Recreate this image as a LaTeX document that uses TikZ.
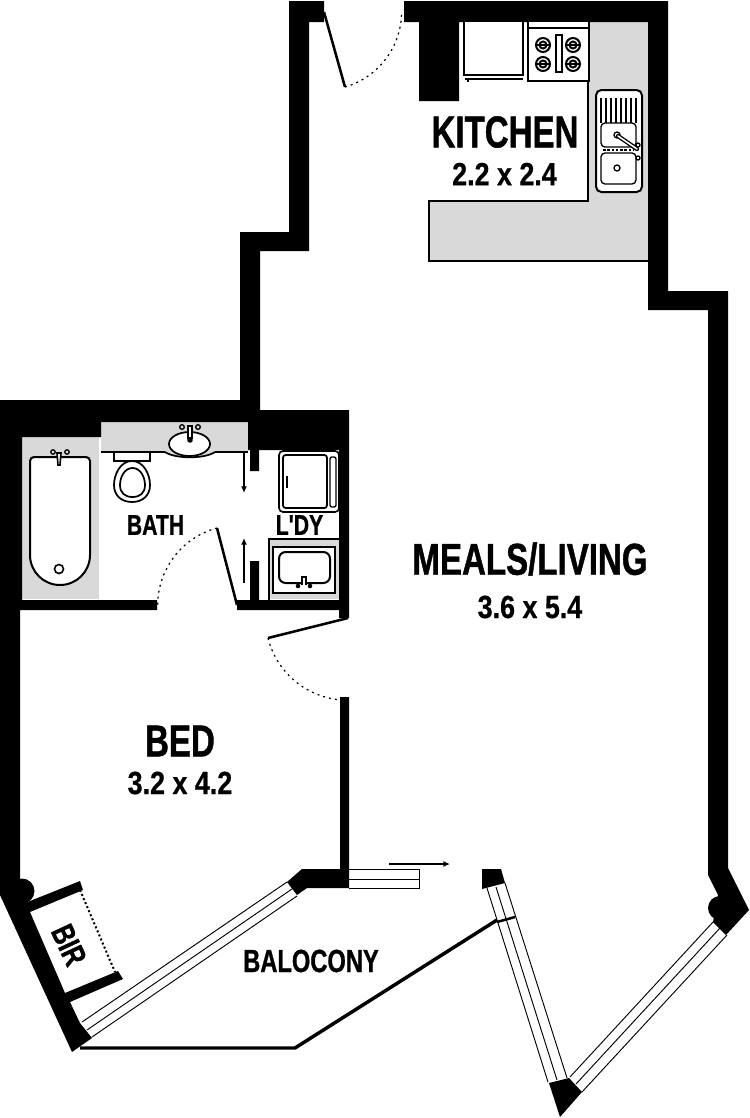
\documentclass[tikz,border=0pt]{standalone}
\usepackage{fontspec}
\setmainfont[FakeStretch=0.74,BoldFeatures={FakeBold=0.9}]{Liberation Sans}
\newfontface\dimfont[FakeStretch=0.84,FakeBold=0.6]{Liberation Sans Bold}
\newfontface\plainquotefont[FakeStretch=0.74,FakeBold=0.9]{Liberation Sans Bold}
\definecolor{benchgrey}{HTML}{D9D9D9}
\tikzset{
  wall/.style={fill=black,draw=none},
  bench/.style={fill=benchgrey,draw=none},
  fixture/.style={draw=black,line width=1.5pt,fill=white},
  thinfix/.style={draw=black,line width=1pt},
  glass/.style={draw=black,line width=0.7pt},
  doorleaf/.style={draw=black,line width=1.9pt},
  doorswing/.style={draw=black,line width=0.9pt,dash pattern=on 1.5pt off 3pt},
  slidearrow/.style={draw=black,line width=1.1pt,-{Latex[length=5pt,width=4.5pt]}},
  bigname/.style={font=\bfseries\fontsize{33.5}{36}\selectfont,inner sep=0pt},
  midname/.style={font=\bfseries\fontsize{24}{26}\selectfont,inner sep=0pt},
  dimname/.style={font=\dimfont\fontsize{24}{26}\selectfont,inner sep=0pt},
  smallname/.style={font=\bfseries\fontsize{21.5}{23}\selectfont,inner sep=0pt},
}
\usetikzlibrary{arrows.meta}
\begin{document}
\begin{tikzpicture}[x=0.75pt,y=-0.75pt]
\useasboundingbox (0,0) rectangle (750,1118);

\fill[bench] (588,22) -- (648,22) -- (648,261) -- (429,261) -- (429,201) -- (588,201) -- cycle;
\fill[bench] (22,437) rectangle (99,599);
\fill[bench] (101,422) rectangle (248,452);
\fill[bench] (269,539) rectangle (339,599);
\draw[line width=1.3pt] (588,22) -- (588,201) -- (429,201) -- (429,261) -- (648,261);
\draw[line width=1.1pt] (269,600) -- (269,539) -- (339,539);

\fill[wall] (324,1) -- (324,22) -- (309,22) -- (309,251) -- (260,251) -- (260,410) -- (349,410) -- (349,618) -- (339,618)
  -- (339,610) -- (237,610) -- (237,600) -- (250,600) -- (250,561) -- (259,561) -- (259,600) -- (339,600) -- (339,450)
  -- (259,450) -- (259,471) -- (250,471) -- (250,450) -- (248,450) -- (248,422) -- (101,422) -- (101,437) -- (22,437)
  -- (22,600) -- (157,600) -- (157,610) -- (20,610) -- (20,890) -- (25,903) -- (80,881) -- (83,890) -- (30,912)
  -- (65,993) -- (118,971) -- (123,979) -- (70,1002) -- (80,1023) -- (92,1038) -- (72,1052) -- (0,895) -- (0,400)
  -- (240,400) -- (240,232) -- (289,232) -- (289,1) -- cycle;
\fill[wall] (22,891) circle (12.5);
\fill[wall] (340,697) -- (349,697) -- (349,888) -- (307,888) -- (297,895) -- (287,882) -- (302,869) -- (340,869) -- cycle;
\fill[wall] (404,1) -- (668,1) -- (668,291) -- (728,291) -- (728,868) -- (749,910) -- (726,935) -- (713,922) -- (718,895)
  -- (708,875) -- (708,310) -- (648,310) -- (648,22) -- (459,22) -- (459,101) -- (419,101) -- (419,22) -- (404,22) -- cycle;
\fill[wall] (720,908) circle (12);
\fill[wall] (482,869) -- (501,869) -- (505,883) -- (482,889) -- cycle;
\fill[wall] (549,1083) -- (569,1078) -- (582,1092) -- (560,1117) -- cycle;

\draw[glass] (82,1022) -- (287,882);
\draw[glass] (87,1030) -- (292,889);
\draw[glass] (92,1037) -- (297,896);
\draw[glass] (349,869) -- (419,869) -- (419,888) -- (349,888);
\draw[glass] (349,879) -- (419,879);
\draw[glass] (487,888) -- (548,1082);
\draw[glass] (496,887) -- (557,1080);
\draw[glass] (505,883) -- (567,1078);
\draw[glass] (570,1077) -- (713,922);
\draw[glass] (576,1084) -- (720,928);
\draw[glass] (582,1092) -- (727,935);

\draw[line width=2.6pt,line join=bevel] (80,1048) -- (295,1048) -- (497,920);
\draw[line width=1.9pt] (497,922) -- (515,917);

\draw[doorleaf] (324,12) -- (345,87);
\draw[doorswing] (345,87) arc[start angle=74,end angle=0,radius=78];
\draw[doorleaf] (237,605) -- (217,528);
\draw[doorswing] (217,528) arc[start angle=255,end angle=180,radius=80];
\draw[doorleaf] (348,618) -- (268,638);
\draw[doorswing] (268,638) arc[start angle=166,end angle=96,radius=82];
\draw[line width=1.5pt,dash pattern=on 1.5pt off 1.8pt] (80,890) -- (115,972);

\draw[slidearrow] (389,864) -- (450,864);
\draw[slidearrow] (244,452) -- (244,493);
\draw[slidearrow] (244,583) -- (244,538);

\draw[fixture] (464,22) -- (464,75) -- (523,75) -- (523,22);
\draw[thinfix] (465,79) -- (523,79);
\draw[thinfix,line width=1.8pt] (468,79) -- (468,82);
\draw[fixture] (528,22) -- (528,81) -- (589,81) -- (589,22);
\draw[thinfix] (528,28) -- (589,28);
\draw[thinfix,line width=1.2pt] (556,35) rectangle (562,72);
\foreach \bx in {543,573}
  \foreach \by in {45,64} {
    \draw[thinfix,line width=1.5pt] (\bx,\by) circle (7);
    \draw[thinfix,line width=1.5pt] (\bx,\by) circle (3.5);
    \draw[thinfix,line width=1pt] (\bx-7,\by) -- (\bx+7,\by);
  }

\draw[fixture,rounded corners=4pt] (596,90) rectangle (642,192);
\foreach \dx in {0,1,...,7}
  \draw[thinfix] (601+\dx*5,98) -- (601+\dx*5,123);
\draw[thinfix,fill=white,rounded corners=3pt] (601,123) rectangle (636,147);
\draw[thinfix,fill=white,rounded corners=3pt] (601,153) rectangle (636,184);
\draw[line width=2.2pt,dash pattern=on 2pt off 1.2pt] (603,150) -- (634,150);
\draw[thinfix,fill=white] (617,135) circle (3);
\draw[thinfix,fill=white] (617,168) circle (3);
\draw[line width=3.2pt,line cap=round] (618,136) -- (637,149);
\draw[line width=1.2pt,white,line cap=round] (618,136) -- (637,149);
\draw[thinfix,fill=white] (638,145) circle (2);
\draw[thinfix,fill=white] (638,158) circle (2);

\draw[fixture] (30,555) -- (30,461) arc[start angle=180,end angle=270,radius=4] -- (86,457) arc[start angle=270,end angle=360,radius=4]
  -- (90,555) arc[start angle=0,end angle=180,radius=30] -- cycle;
\draw[thinfix,fill=white,line width=1.2pt] (59,569) circle (4.5);
\draw[thinfix,fill=benchgrey] (53,452) circle (2.2);
\draw[thinfix,fill=benchgrey] (67,452) circle (2.2);
\draw[line width=1.2pt,fill=white] (57,453) -- (61,453) -- (60,465) -- (58,465) -- cycle;

\draw[thinfix] (101,452) -- (165,452);
\draw[thinfix] (215,452) -- (248,452);
\draw[thinfix,fill=benchgrey,line width=1.3pt] (165,452) .. controls (175,459) and (205,459) .. (215,452);
\draw[fixture,line width=1.3pt] (189.5,444) ellipse (20.5 and 12);
\draw[thinfix,fill=benchgrey] (182,427) circle (2.3);
\draw[thinfix,fill=benchgrey] (198,427) circle (2.3);
\draw[thinfix,fill=white,line width=1pt] (188,426) rectangle (192,438);
\fill (190,440) circle (2.8);
\draw[fixture,line width=1.3pt] (114,452) rectangle (150,461);
\draw[fixture,line width=1.3pt] (132,461) .. controls (120,461) and (114,475) .. (114,485) .. controls (114,496) and (122,502) .. (132,502)
  .. controls (142,502) and (150,496) .. (150,485) .. controls (150,475) and (144,461) .. (132,461) -- cycle;
\draw[fixture,line width=1.3pt] (132.5,468) .. controls (124,468) and (120,478) .. (120,485) .. controls (120,493) and (125,497) .. (132.5,497)
  .. controls (140,497) and (145,493) .. (145,485) .. controls (145,478) and (141,468) .. (132.5,468) -- cycle;

\draw[fixture,line width=1.2pt,rounded corners=3pt] (279,451) rectangle (339,512);
\draw[thinfix,rounded corners=2pt,line width=1.3pt] (283,455) rectangle (327,508);
\draw[thinfix,rounded corners=1.5pt] (330,457) rectangle (336,507);
\draw[line width=1.6pt] (287,476) -- (287,488);

\draw[fixture,line width=1.5pt] (273,547) rectangle (335,593);
\draw[thinfix,rounded corners=5pt,line width=1.5pt] (279,552) rectangle (330,583);
\draw[line width=1.2pt,fill=white] (302,585) -- (302,577) -- (306,577) -- (306,585);
\fill (298,586) circle (2.3);
\fill (310,586) circle (2.3);

\node[bigname] (kitchen) at (505,132) {KITCHEN};
\node[dimname] (kitchensize) at (504.5,174) {2.2 x 2.4};
\node[bigname] (meals) at (530,559) {MEALS/LIVING};
\node[dimname] (mealssize) at (530,607) {3.6 x 5.4};
\node[bigname] (bed) at (180,741) {BED};
\node[dimname] (bedsize) at (180,783) {3.2 x 4.2};
\node[smallname] (bath) at (155.5,525) {BATH};
\node[inner sep=0pt,font=\plainquotefont\fontsize{21.5}{23}\selectfont] (ldy) at (299.5,525) {L'DY};
\node[midname] (balcony) at (311,961) {BALOCONY};
\node[midname,rotate=-65] (bir) at (69,945) {BIR};
\end{tikzpicture}
\end{document}
